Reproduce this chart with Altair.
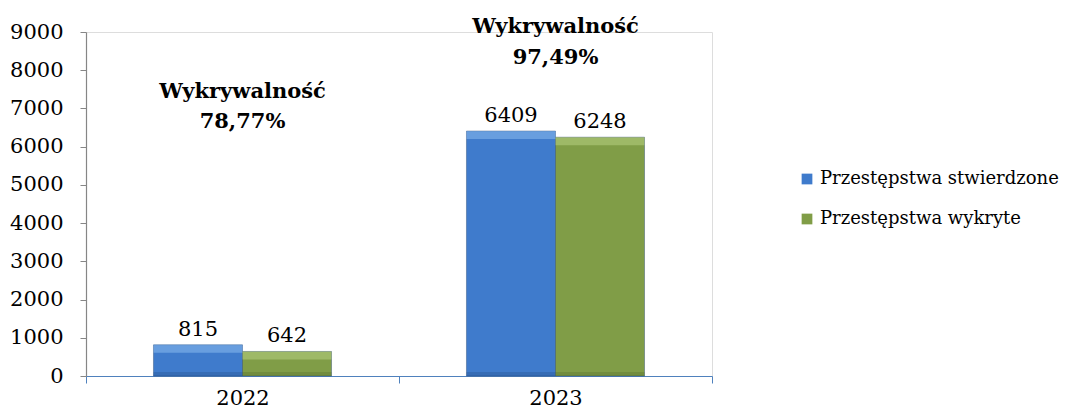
import altair as alt
import pandas as pd

years = ["2022", "2023"]
series = ["Przestępstwa stwierdzone", "Przestępstwa wykryte"]
stwierdzone = [815, 6409]
wykryte = [642, 6248]
rate_title = "Wykrywalność"
rates = ["78,77%", "97,49%"]
# annotation anchors (data units) for the two text lines above each group
annot_line1_y = [7430, 9130]
annot_line2_y = [6645, 8320]
y_ticks = [0, 1000, 2000, 3000, 4000, 5000, 6000, 7000, 8000, 9000]

colors = ["#3f7bcc", "#809d47"]
light = ["#9ccaf7", "#c4dc8e"]
dark = ["#244f8a", "#556d2a"]

rows = []
for i, yr in enumerate(years):
    rows.append({"year": yr, "series": series[0], "value": stwierdzone[i]})
    rows.append({"year": yr, "series": series[1], "value": wykryte[i]})
df = pd.DataFrame(rows)

ann = pd.DataFrame({
    "year": years * 2,
    "text": [rate_title] * 2 + rates,
    "y": annot_line1_y + annot_line2_y,
})

FONT = "DejaVu Serif"

x_axis = alt.Axis(title=None, labelAngle=0, tickBand="extent")
y_axis = alt.Axis(title=None, values=y_ticks, grid=False, format="d")
x_scale = alt.Scale(paddingInner=0, paddingOuter=0)
xo_scale = alt.Scale(paddingOuter=0.758, paddingInner=0)
y_scale = alt.Scale(domain=[0, 9000], nice=False)


def X():
    return alt.X("year:N", sort=years, scale=x_scale, axis=x_axis)


def XO():
    return alt.XOffset("series:N", sort=series, scale=xo_scale)


def Y(field="value"):
    return alt.Y(f"{field}:Q", scale=y_scale, axis=y_axis)


bars = alt.Chart(df).mark_bar(stroke="#1f3f6e", strokeWidth=0.8, strokeOpacity=0.5).encode(
    x=X(), xOffset=XO(), y=Y(),
    color=alt.Color("series:N", sort=series,
                    scale=alt.Scale(domain=series, range=colors),
                    legend=alt.Legend(title=None, orient="none", legendX=712, legendY=138)),
)

top_strip = alt.Chart(df).mark_bar(y2Offset=8, opacity=0.45).encode(
    x=X(), xOffset=XO(),
    y=Y(), y2=alt.Y2("value"),
    color=alt.condition(alt.datum.series == series[0], alt.value(light[0]), alt.value(light[1])),
)

bottom_strip = alt.Chart(df).mark_bar(yOffset=-4, opacity=0.35).encode(
    x=X(), xOffset=XO(),
    y=alt.Y(datum=0, scale=y_scale, axis=y_axis), y2=alt.Y2(datum=0),
    color=alt.condition(alt.datum.series == series[0], alt.value(dark[0]), alt.value(dark[1])),
)

labels = alt.Chart(df).mark_text(font=FONT, fontSize=21, color="#000000",
                                 baseline="alphabetic", dy=-9).encode(
    x=X(), xOffset=XO(), y=Y(), text=alt.Text("value:Q", format="d"),
)

annot = alt.Chart(ann).mark_text(font=FONT, fontSize=21, fontWeight="bold", color="#000000",
                                 baseline="middle").encode(
    x=X(), y=Y("y"), text="text:N",
)

chart = alt.layer(bars, top_strip, bottom_strip, labels, annot).properties(
    width=626, height=344,
    autosize=alt.AutoSizeParams(type="none"),
    padding={"left": 78, "top": 24, "right": 347, "bottom": 32},
).configure_view(stroke=None).configure(background="#ffffff").configure_axis(
    labelFont=FONT, labelFontSize=21, labelColor="#000000", domainWidth=1.2,
).configure_axisX(
    domainColor="#4f81bd", tickColor="#4f81bd", tickSize=7, labelPadding=4,
).configure_axisY(
    domainColor="#868686", tickColor="#868686", tickSize=6, labelPadding=17,
).configure_legend(
    labelFont=FONT, labelFontSize=18, labelColor="#000000", labelLimit=0,
    symbolType="square", symbolSize=115, symbolStrokeWidth=0,
    rowPadding=22, labelOffset=4,
)

chart.save("out.html", embed_options={"renderer": "svg", "actions": False})
